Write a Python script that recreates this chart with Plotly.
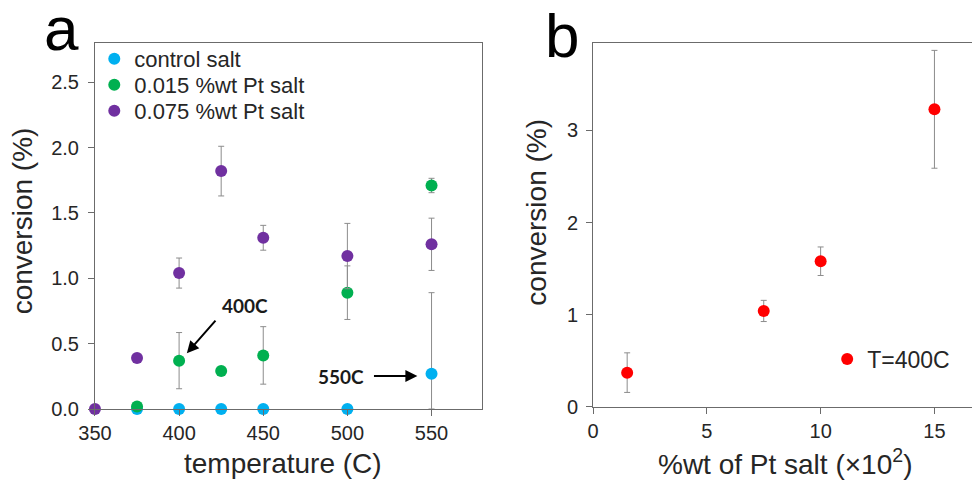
import plotly.graph_objects as go

# ---- data: panel a ----
temp_control = [375, 400, 425, 450, 500, 550]
conv_control = [0.0, 0.0, 0.0, 0.0, 0.0, 0.27]
err_control_up = [0, 0, 0, 0, 0, 0.62]
err_control_dn = [0, 0, 0, 0, 0, 0.27]

temp_015 = [375, 400, 425, 450, 500, 550]
conv_015 = [0.02, 0.37, 0.29, 0.41, 0.89, 1.71]
err_015 = [0, 0.215, 0, 0.22, 0.205, 0.055]

temp_075 = [350, 375, 400, 425, 450, 500, 550]
conv_075 = [0.0, 0.39, 1.04, 1.82, 1.31, 1.17, 1.26]
err_075 = [0, 0, 0.115, 0.19, 0.095, 0.25, 0.20]

# ---- data: panel b ----
pt_wt = [1.5, 7.5, 10, 15]
conv_400 = [0.37, 1.04, 1.58, 3.23]
err_400 = [0.215, 0.115, 0.155, 0.64]

x_ticks_a = [350, 400, 450, 500, 550]
y_ticks_a = [0.0, 0.5, 1.0, 1.5, 2.0, 2.5]
x_ticks_b = [0, 5, 10, 15]
y_ticks_b = [0, 1, 2, 3]

FONT = "Liberation Sans, Arial, sans-serif"
LINE = "#6b6b6b"
TXT = "#262626"
ERR = "#8c8c8c"

fig = go.Figure()


def err(arr, arrminus=None):
    d = dict(type="data", array=arr, color=ERR, thickness=1, width=3)
    if arrminus is not None:
        d["arrayminus"] = arrminus
    return d


fig.add_trace(go.Scatter(x=temp_control, y=conv_control, mode="markers",
                         name="control salt", showlegend=True,
                         marker=dict(color="#00B0F0", size=12),
                         error_y=err(err_control_up, err_control_dn),
                         cliponaxis=False, xaxis="x", yaxis="y", legend="legend"))
fig.add_trace(go.Scatter(x=temp_015, y=conv_015, mode="markers",
                         name="0.015 %wt Pt salt", showlegend=True,
                         marker=dict(color="#00B050", size=12),
                         error_y=err(err_015),
                         cliponaxis=False, xaxis="x", yaxis="y", legend="legend2"))
fig.add_trace(go.Scatter(x=temp_075, y=conv_075, mode="markers",
                         name="0.075 %wt Pt salt", showlegend=True,
                         marker=dict(color="#7030A0", size=12),
                         error_y=err(err_075),
                         cliponaxis=False, xaxis="x", yaxis="y", legend="legend3"))
fig.add_trace(go.Scatter(x=pt_wt, y=conv_400, mode="markers",
                         name="T=400C", showlegend=True,
                         marker=dict(color="#FF0000", size=12),
                         error_y=err(err_400),
                         cliponaxis=False, xaxis="x2", yaxis="y2", legend="legend4"))

axis_common = dict(showgrid=False, zeroline=False, showline=True, linecolor=LINE,
                   linewidth=1, ticks="outside", ticklen=6, tickcolor=LINE,
                   automargin=False,
                   tickfont=dict(family=FONT, size=20, color=TXT))


def leg(x, y, size=22):
    return dict(x=x, y=y, xanchor="left", yanchor="middle", visible=True,
                font=dict(family=FONT, size=size, color=TXT),
                bgcolor="rgba(0,0,0,0)", itemsizing="constant", itemwidth=30)


fig.update_layout(
    width=972, height=480,
    showlegend=True,
    margin=dict(l=0, r=0, t=0, b=0, autoexpand=False),
    paper_bgcolor="white", plot_bgcolor="white",
    font=dict(family=FONT, color=TXT),
    xaxis=dict(domain=[0.0977, 0.4959], range=[350, 580], tickvals=x_ticks_a,
               mirror=True, anchor="y", **axis_common),
    yaxis=dict(domain=[0.1479, 0.9104], range=[0, 2.8], tickvals=y_ticks_a,
               tickformat=".1f", mirror=True, anchor="x", ticklabelstandoff=5,
               **axis_common),
    xaxis2=dict(domain=[0.6101, 1.0], range=[0, 16.65], tickvals=x_ticks_b,
                mirror=True, anchor="y2", **axis_common),
    yaxis2=dict(domain=[0.1527, 0.9104], range=[0, 3.95], tickvals=y_ticks_b,
                anchor="x2", ticklabelstandoff=4, **axis_common),
    legend=leg(0.097, 0.877),
    legend2=leg(0.097, 0.823),
    legend3=leg(0.097, 0.769),
    legend4=leg(0.851, 0.252, 23),
)

annotations = [
    # axis titles
    dict(text="temperature (C)", x=0.291, y=0.035, xref="paper", yref="paper",
         xanchor="center", yanchor="middle", showarrow=False,
         font=dict(family=FONT, size=28, color=TXT)),
    dict(text="conversion (%)", x=0.0232, y=0.540, xref="paper", yref="paper",
         xanchor="center", yanchor="middle", textangle=-90, showarrow=False,
         font=dict(family=FONT, size=28, color=TXT)),
    dict(text="%wt of Pt salt (×10<sup>2</sup>)", x=0.8076, y=0.037, xref="paper", yref="paper",
         xanchor="center", yanchor="middle", showarrow=False,
         font=dict(family=FONT, size=28, color=TXT)),
    dict(text="conversion (%)", x=0.5525, y=0.557, xref="paper", yref="paper",
         xanchor="center", yanchor="middle", textangle=-90, showarrow=False,
         font=dict(family=FONT, size=28, color=TXT)),
    # panel letters
    dict(text="a", x=0.063, y=0.941, xref="paper", yref="paper", showarrow=False,
         xanchor="center", yanchor="middle",
         font=dict(family=FONT, size=62, color="black")),
    dict(text="b", x=0.578, y=0.927, xref="paper", yref="paper", showarrow=False,
         xanchor="center", yanchor="middle",
         font=dict(family=FONT, size=62, color="black")),
    # callouts
    dict(text="<b>400C</b>", x=439, y=0.795, xref="x", yref="y", showarrow=False,
         font=dict(family="Lato, sans-serif", size=19, color="#1a1a1a")),
    dict(text="", x=404.6, y=0.427, ax=422.4, ay=0.687, xref="x", yref="y",
         axref="x", ayref="y", showarrow=True, arrowhead=2, arrowsize=1.2,
         arrowwidth=2, arrowcolor="black"),
    dict(text="<b>550C</b>", x=496.5, y=0.252, xref="x", yref="y", showarrow=False,
         font=dict(family="Lato, sans-serif", size=19, color="#1a1a1a")),
    dict(text="", x=541.6, y=0.252, ax=514.9, ay=0.252, xref="x", yref="y",
         axref="x", ayref="y", showarrow=True, arrowhead=2, arrowsize=1.2,
         arrowwidth=2, arrowcolor="black"),
]
fig.update_layout(annotations=annotations)

fig.write_html("out.html",
               config={"displayModeBar": False},
               post_script="document.body.style.margin='0px';"
                           "document.body.style.overflow='hidden';")
